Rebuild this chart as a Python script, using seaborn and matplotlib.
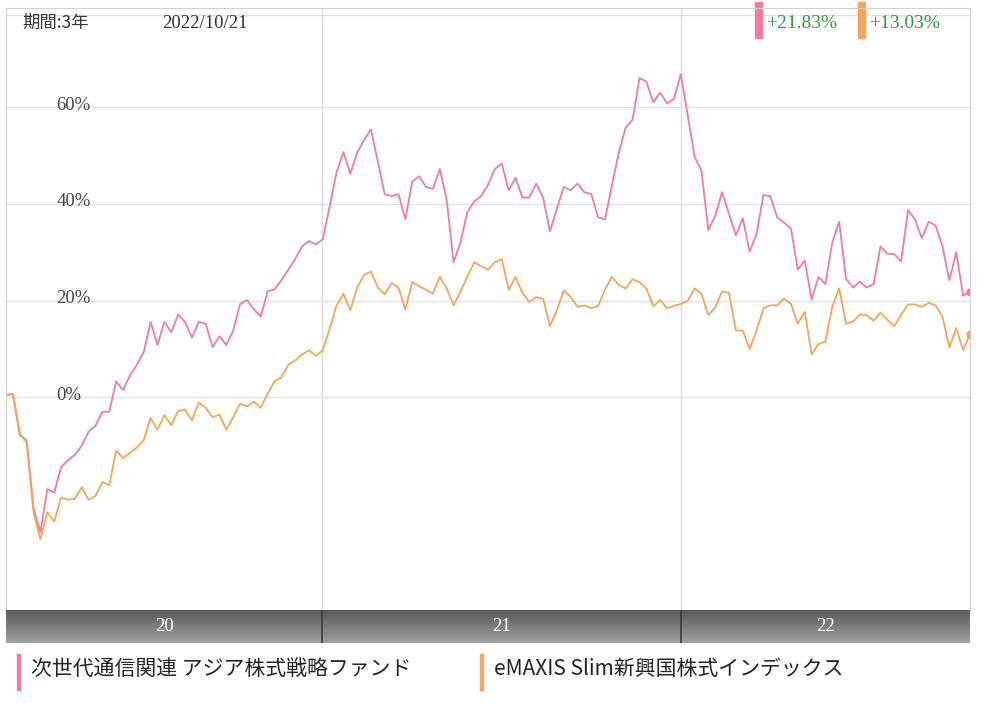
import numpy as np
import pandas as pd
import matplotlib
matplotlib.use("Agg")
import matplotlib.pyplot as plt
import seaborn as sns

fund_a = "次世代通信関連 アジア株式戦略ファンド"
fund_b = "eMAXIS Slim新興国株式インデックス"
pink_vals = [0.4, 0.7, -7.8, -8.9, -23.0, -27.9, -19.0, -19.7, -14.5, -13.0,
             -11.9, -10.0, -7.1, -5.9, -3.0, -3.0, 3.3, 1.5, 4.5, 6.7,
             9.3, 15.6, 10.8, 15.6, 13.4, 17.1, 15.6, 12.3, 15.6, 15.2,
             10.4, 12.6, 10.8, 13.8, 19.3, 20.1, 18.2, 16.7, 21.9, 22.3,
             24.2, 26.4, 28.6, 31.2, 32.3, 31.6, 32.7, 39.4, 46.5, 50.7,
             46.2, 50.6, 53.2, 55.4, 48.7, 42.0, 41.6, 42.0, 36.8, 44.6,
             45.7, 43.5, 43.1, 47.2, 40.9, 27.9, 32.0, 38.3, 40.5,
             41.6, 43.9, 47.2, 48.3, 42.8, 45.4, 41.3, 41.3, 44.2, 41.3,
             34.3, 39.0, 43.5, 42.8, 44.2, 42.4, 42.0, 37.2, 36.8, 43.9,
             50.6, 55.8, 57.4, 66.0, 65.3, 61.0, 63.0, 60.8, 61.7, 66.8,
             58.4, 49.8, 46.8, 34.6, 37.5, 42.4, 37.9, 33.5, 37.0, 30.1,
             33.8, 41.8, 41.6, 37.2, 36.1, 34.9, 26.4, 28.3, 20.2, 24.9,
             23.4, 32.0, 36.3, 24.5, 22.7, 23.9, 22.7, 23.4, 31.2, 29.7,
             29.6, 28.1, 38.7, 36.8, 32.9, 36.3, 35.5, 31.2, 24.2, 30.0,
             21.0, 21.83]
orange_vals = [0.4, 0.7, -7.4, -9.3, -23.8, -29.4, -23.8, -25.7, -20.8, -21.2,
               -21.0, -18.6, -21.2, -20.4, -17.5, -18.2, -11.0, -12.6, -11.5, -10.4,
               -8.9, -4.3, -6.7, -3.7, -5.8, -2.8, -2.6, -4.8, -1.1, -2.2,
               -4.1, -3.6, -6.7, -4.1, -1.3, -1.9, -0.9, -2.2, 0.7, 3.3,
               4.1, 6.7, 7.6, 8.9, 9.7, 8.6, 9.7, 14.1, 19.0, 21.4,
               18.0, 22.7, 25.3, 26.0, 22.7, 21.3, 23.6, 22.7, 18.2, 23.8,
               23.0, 22.2, 21.4, 24.9, 22.5, 19.0, 21.9, 24.9, 27.9,
               27.1, 26.4, 27.9, 28.6, 22.2, 24.9, 21.6, 19.7, 20.7, 20.4,
               14.7, 18.0, 22.1, 20.8, 18.7, 19.0, 18.4, 18.9, 22.3, 24.9,
               23.2, 22.5, 24.4, 23.8, 22.5, 18.8, 20.1, 18.4, 18.9, 19.3,
               19.9, 22.5, 21.4, 17.0, 18.6, 21.9, 21.6, 13.8, 13.8, 10.0,
               13.8, 18.4, 19.0, 19.0, 20.4, 19.3, 15.2, 17.7, 8.9, 11.0,
               11.5, 18.7, 22.5, 15.2, 15.6, 17.1, 17.0, 15.8, 17.5, 16.0,
               14.7, 17.1, 19.2, 19.2, 18.7, 19.5, 19.0, 16.7, 10.3, 14.3,
               9.8, 13.03]
year_labels = ["20", "21", "22"]
y_ticks = [0, 20, 40, 60]
date_label = "2022/10/21"
period_label = "期間:3年"

PINK = "#f07ca0"
ORANGE = "#f5a55a"
GREEN = "#2e9a3a"

start, end = pd.Timestamp("2020-02-15"), pd.Timestamp("2022-10-21")
df = pd.concat([
    pd.DataFrame({"date": pd.date_range(start, end, periods=len(pink_vals)), "v": pink_vals, "s": fund_a}),
    pd.DataFrame({"date": pd.date_range(start, end, periods=len(orange_vals)), "v": orange_vals, "s": fund_b}),
])

sns.set_style("white")
plt.rcParams["font.family"] = ["Liberation Serif", "Noto Sans CJK JP"]
fig = plt.figure(figsize=(9.84, 7.03), dpi=100)
W, H = 984, 703
ax = fig.add_axes([6 / W, 1 - 610 / H, 964 / W, 602 / H])
sns.lineplot(data=df, x="date", y="v", hue="s", palette=[PINK, ORANGE], ax=ax,
             legend=False, linewidth=1.3)
ax.plot(df["date"].iloc[len(pink_vals) - 1], pink_vals[-1], "o", color=PINK, ms=5)
ax.plot(df["date"].iloc[-1], orange_vals[-1], "o", color=ORANGE, ms=5)
ax.set_xlim(start, end)
ax.set_ylim(-44, 80.5)
ax.set_xlabel(""); ax.set_ylabel("")
ax.set_xticks([]); ax.set_yticks([])
for t in y_ticks:
    ax.axhline(t, color="#e2e2e2", lw=1, zorder=0)
    ax.text(0.052, t + 0.4, f"{t}%", transform=ax.get_yaxis_transform(),
            fontsize=13.5, color="#444444", va="center")
ax.axhline(79, color="#e2e2e2", lw=1, zorder=0)
years = [pd.Timestamp("2021-01-01"), pd.Timestamp("2022-01-01")]
for d in years:
    ax.axvline(d, color="#dcdcdc", lw=1, zorder=0)
for sp in ax.spines.values():
    sp.set_color("#d0d0d0")
ax.text(0.017, 0.975, period_label, transform=ax.transAxes, fontsize=12.5,
        va="center", family=["Noto Sans CJK JP"], color="#333333")
ax.text(0.162, 0.975, date_label, transform=ax.transAxes, fontsize=13.5,
        va="center", color="#333333")
for xb, col, val in [(0.777, PINK, pink_vals[-1]), (0.884, ORANGE, orange_vals[-1])]:
    ax.add_patch(plt.Rectangle((xb, 0.95), 0.007, 0.06, transform=ax.transAxes,
                               color=col, clip_on=False))
    ax.text(xb + 0.011, 0.975, f"+{val:.2f}%", transform=ax.transAxes,
            fontsize=14, color=GREEN, va="center")

bx = fig.add_axes([6 / W, 1 - 643 / H, 964 / W, 33 / H], sharex=ax)
grad = np.linspace(0, 1, 50).reshape(-1, 1)
bx.imshow(grad, aspect="auto", cmap=matplotlib.colors.LinearSegmentedColormap.from_list(
    "g", ["#5a5a5a", "#a0a0a0"]), extent=[matplotlib.dates.date2num(start),
    matplotlib.dates.date2num(end), 0, 1], origin="upper")
bx.set_ylim(0, 1)
bounds = [start] + years + [end]
for i, lab in enumerate(year_labels):
    mid = bounds[i] + (bounds[i + 1] - bounds[i]) / 2
    bx.text(mid, 0.5, lab, color="white", fontsize=13.5, ha="center", va="center")
for d in years:
    bx.axvline(d, color="#3a3a3a", lw=1.2)
bx.set_xticks([]); bx.set_yticks([])
for sp in bx.spines.values():
    sp.set_visible(False)
ax.set_xlim(start, end)

for x0, col, lab in [(17, PINK, fund_a), (480, ORANGE, fund_b)]:
    fig.patches.append(plt.Rectangle((x0 / W, 1 - 690 / H), 3 / W, 36 / H,
                                     transform=fig.transFigure, color=col))
    fig.text((x0 + 14) / W, 1 - 669 / H, lab, fontsize=15, va="center",
             family=["Noto Sans CJK JP", "DejaVu Sans"], color="#222222")

fig.savefig("out.png", dpi=100)
